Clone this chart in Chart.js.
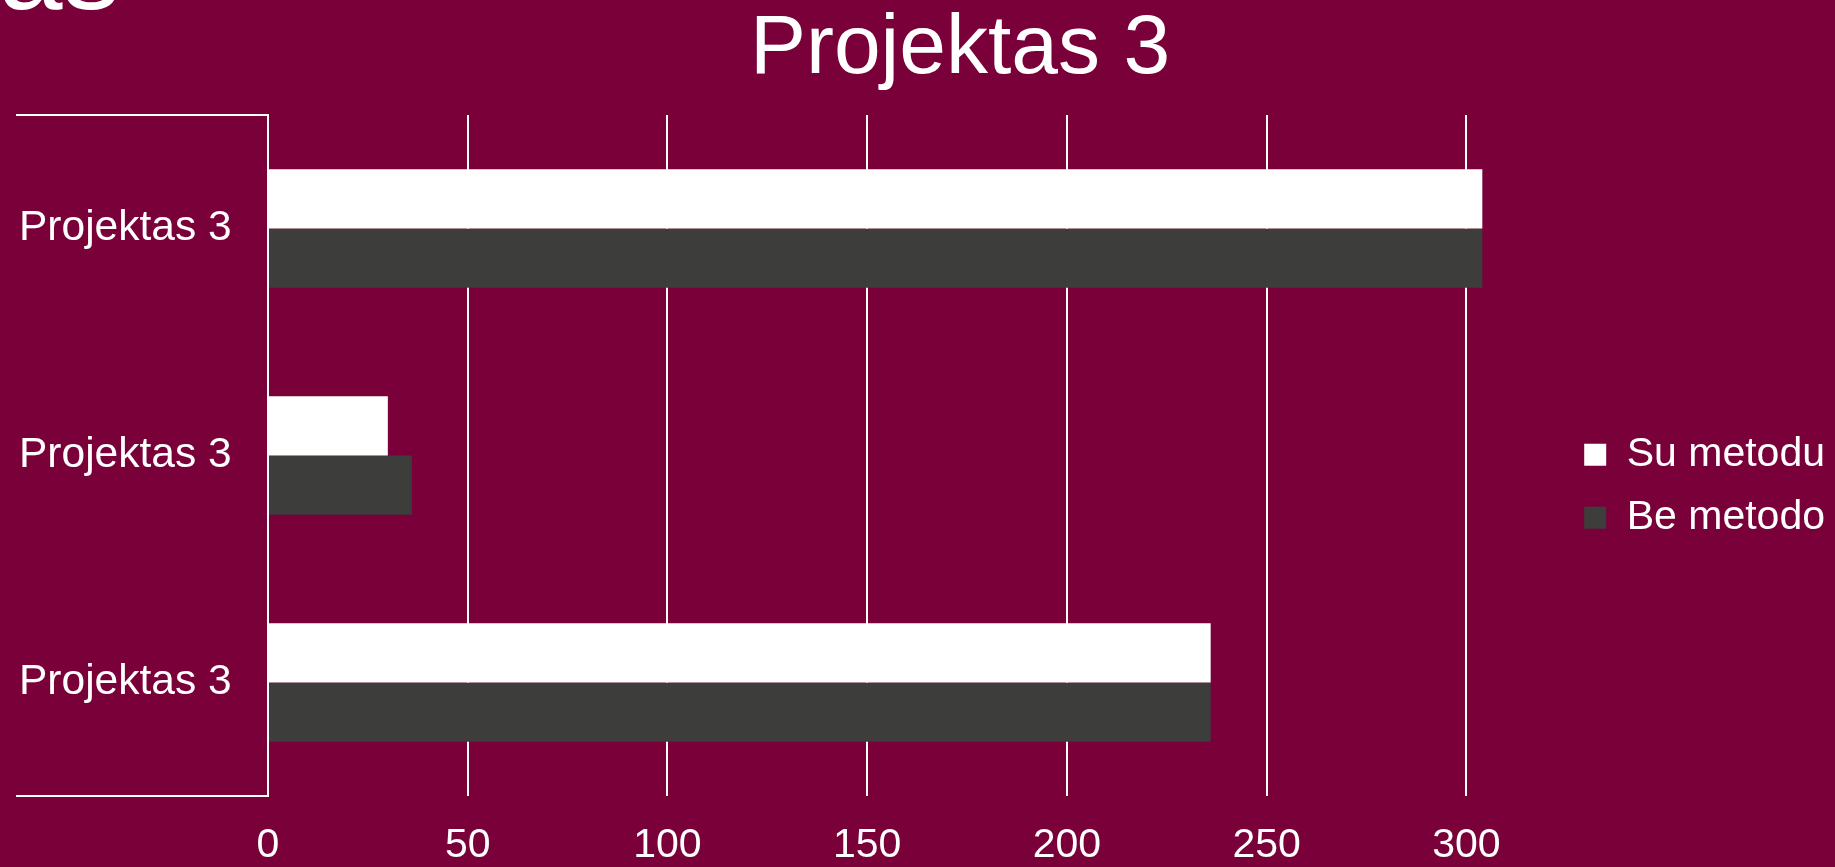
<!DOCTYPE html>
<html>
<head>
<meta charset="utf-8">
<script src="https://cdn.jsdelivr.net/npm/chart.js@4"></script>
<style>
  html, body { margin: 0; padding: 0; background: #7a003a; overflow: hidden; }
  #wrap { width: 1835px; height: 867px; }
</style>
</head>
<body>
<div id="wrap"><canvas id="projChart"></canvas></div>
<script>
const categories = ["Projektas 3", "Projektas 3", "Projektas 3"];
const suMetodu = [304, 30, 236];
const beMetodo = [304, 36, 236];
const xTicks = [0, 50, 100, 150, 200, 250, 300];

const FONT = "'Liberation Sans', Arial, sans-serif";

/* clipped slide heading peeking in at the top-left */
const cornerText = {
  id: 'cornerText',
  afterDraw(chart) {
    const ctx = chart.ctx;
    ctx.save();
    ctx.fillStyle = '#fff';
    ctx.font = '115px ' + FONT;
    ctx.textAlign = 'right';
    ctx.textBaseline = 'alphabetic';
    ctx.fillText('ias', 120, 9);
    ctx.restore();
  }
};

/* category axis ledger lines reaching out under the labels */
const ledger = {
  id: 'ledger',
  afterDraw(chart) {
    const a = chart.chartArea;
    const ctx = chart.ctx;
    ctx.save();
    ctx.strokeStyle = '#fff';
    ctx.lineWidth = 2;
    ctx.beginPath();
    ctx.moveTo(a.left - 252, a.top);
    ctx.lineTo(a.left, a.top);
    ctx.moveTo(a.left - 252, a.bottom);
    ctx.lineTo(a.left, a.bottom);
    ctx.stroke();
    ctx.restore();
  }
};

new Chart(document.getElementById('projChart'), {
  type: 'bar',
  data: {
    labels: categories,
    datasets: [
      { label: 'Su metodu', data: suMetodu, backgroundColor: '#ffffff', borderWidth: 0 },
      { label: 'Be metodo', data: beMetodo, backgroundColor: '#3d3d3b', borderWidth: 0 }
    ]
  },
  options: {
    indexAxis: 'y',
    responsive: true,
    maintainAspectRatio: false,
    animation: false,
    categoryPercentage: 0.522,
    barPercentage: 1,
    layout: { padding: { left: 85, right: 0, top: 0, bottom: 0 } },
    plugins: {
      title: {
        display: true,
        text: 'Projektas 3',
        color: '#fff',
        font: { family: FONT, size: 84, weight: 'normal', lineHeight: 1 },
        padding: { top: 8, bottom: 23 }
      },
      legend: {
        position: 'right',
        title: { display: true, text: ' ', font: { size: 88 }, padding: 0 },
        labels: {
          color: '#fff',
          boxWidth: 22,
          boxHeight: 22,
          padding: 22,
          font: { family: FONT, size: 41 }
        }
      },
      tooltip: { enabled: false }
    },
    scales: {
      x: {
        min: 0,
        max: 324,
        afterBuildTicks: (axis) => {
          axis.ticks = xTicks.map(v => ({ value: v }));
        },
        afterFit: (s) => { s.height = 71; },
        grid: { color: '#fff', lineWidth: 2, drawTicks: false },
        border: { display: false },
        ticks: { color: '#fff', padding: 25, maxRotation: 0, font: { family: FONT, size: 41 } }
      },
      y: {
        offset: true,
        afterFit: (s) => { s.width = 183; },
        grid: { offset: true, drawOnChartArea: false, drawTicks: false },
        border: { display: true, color: '#fff', width: 2 },
        ticks: { color: '#fff', mirror: true, padding: -249, font: { family: FONT, size: 42.5 } }
      }
    }
  },
  plugins: [cornerText, ledger]
});
</script>
</body>
</html>
